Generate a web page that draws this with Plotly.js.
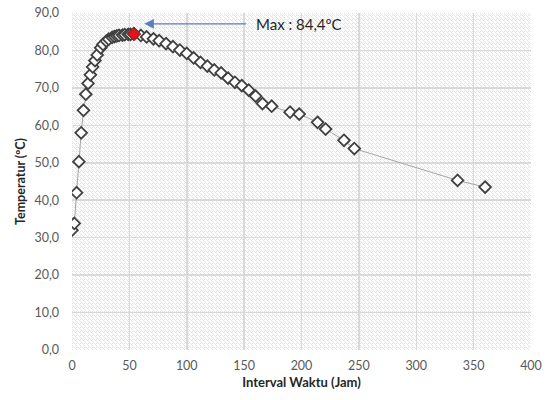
<!DOCTYPE html>
<html>
<head>
<meta charset="utf-8">
<script src="https://cdn.plot.ly/plotly-3.0.1.min.js"></script>
<style>html,body{margin:0;padding:0;background:#fff;}#chart{width:548px;height:400px;}</style>
</head>
<body>
<div id="chart"></div>
<script>
// Data
const hours = [0,2,4,6,8,10,12,14,16,18,20,22,25,27,30,32,35,37,39,41,44,46,49,51,54,
  60,65,71,76,82,88,94,100,106,112,118,124,130,136,142,148,154,160,166,174,190,198,214,221,237,246,336,360];
const temps = [32.0,33.8,42.0,50.3,58.0,64.0,68.3,71.2,73.5,75.6,77.3,78.8,80.7,81.6,82.5,83.0,83.5,83.7,83.9,84.0,84.1,84.2,84.3,84.3,84.4,
  84.0,83.6,83.1,82.6,81.8,81.0,80.1,79.2,78.0,76.8,75.8,74.8,74.0,72.6,71.5,70.6,69.4,67.8,65.8,65.1,63.5,63.0,60.8,59.0,56.0,53.8,45.3,43.5];
const xTicks = [0,50,100,150,200,250,300,350,400];
const yTicks = [0,10,20,30,40,50,60,70,80,90];
const maxLabel = "Max : 84,4ºC";
const xTitle = "Interval Waktu (Jam)";
const yTitle = "Temperatur (ºC)";

let iMax = 0;
temps.forEach((v,i)=>{ if (v > temps[iMax]) iMax = i; });

const W = 459, H = 337;
const hatch = '<svg xmlns="http://www.w3.org/2000/svg" width="'+W+'" height="'+H+'">' +
  '<defs><pattern id="p" patternUnits="userSpaceOnUse" width="4" height="4">' +
  '<rect width="4" height="4" fill="#ffffff"/>' +
  '<path d="M-1,1 l2,2 M0,0 l4,4 M3,-1 l2,2" stroke="#e0e0e0" stroke-width="0.9"/></pattern></defs>' +
  '<rect width="'+W+'" height="'+H+'" fill="url(#p)"/></svg>';
const hatchUri = 'data:image/svg+xml;charset=utf-8,' + encodeURIComponent(hatch);

const font = "Lato, 'Liberation Sans', Arial, sans-serif";

const traces = [
  {
    x: hours, y: temps, type: 'scatter', mode: 'lines+markers',
    line: {color: '#a6a6a6', width: 1},
    marker: {symbol: 'diamond', size: 9, color: '#ffffff', line: {color: '#404040', width: 1.8}},
    hoverinfo: 'x+y', showlegend: false
  },
  {
    x: [hours[iMax]], y: [temps[iMax]], type: 'scatter', mode: 'markers',
    marker: {symbol: 'diamond', size: 10, color: '#e8101c', line: {color: '#8a2a2a', width: 1.2}},
    showlegend: false
  }
];

const layout = {
  width: 548, height: 400,
  margin: {l: 72, r: 17, t: 13, b: 50},
  paper_bgcolor: '#ffffff',
  plot_bgcolor: 'rgba(0,0,0,0)',
  separators: ',.',
  font: {family: font, size: 12, color: '#595959'},
  xaxis: {
    range: [0, 400], tickvals: xTicks, ticktext: xTicks.map(String),
    showgrid: true, gridcolor: '#d9d9d9', gridwidth: 1.5,
    zeroline: false, showline: false, ticks: '',
    ticklabelstandoff: 6,
    tickfont: {family: font, size: 12.5, color: '#595959'},
    title: {text: xTitle, font: {family: font, size: 13, color: '#262626', weight: 'bold'}, standoff: 6}
  },
  yaxis: {
    range: [0, 90], tickvals: yTicks, tickformat: '.1f',
    showgrid: true, gridcolor: '#d9d9d9', gridwidth: 1.5,
    zeroline: false, showline: false, ticks: '',
    ticklabelstandoff: 12,
    tickfont: {family: font, size: 12.5, color: '#595959'},
    title: {text: yTitle, font: {family: font, size: 12.5, color: '#262626', weight: 'bold'}, standoff: 6}
  },
  images: [{
    source: hatchUri, xref: 'paper', yref: 'paper', x: 0, y: 1,
    sizex: 1, sizey: 1, sizing: 'stretch', xanchor: 'left', yanchor: 'top', layer: 'below'
  }],
  annotations: [
    {
      x: hours[iMax] + 9, y: 87.1, xref: 'x', yref: 'y',
      ax: hours[iMax] + 99, ay: 87.1, axref: 'x', ayref: 'y',
      text: '', showarrow: true, arrowhead: 2, arrowsize: 1.6, arrowwidth: 1.2,
      arrowcolor: '#5a7fc2'
    },
    {
      x: hours[iMax] + 105, y: 87.1, xref: 'x', yref: 'y',
      text: maxLabel, showarrow: false, xanchor: 'left', yanchor: 'middle',
      font: {family: font, size: 15, color: '#262626'}
    }
  ]
};

Plotly.newPlot('chart', traces, layout, {displayModeBar: false, staticPlot: true});
</script>
</body>
</html>
